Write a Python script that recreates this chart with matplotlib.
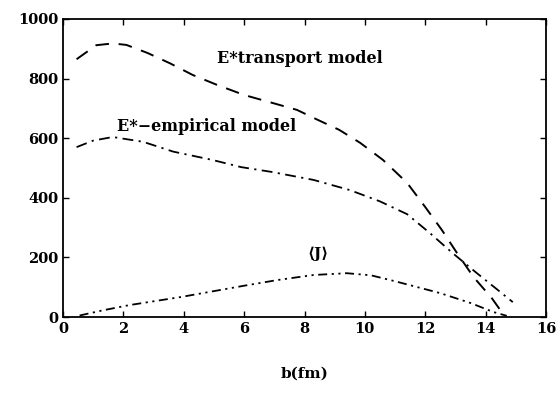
import numpy as np
import matplotlib
matplotlib.use("Agg")
import matplotlib.pyplot as plt

# transport model E*
b_tr = [0.45, 1.1, 1.65, 2.1, 2.8, 3.55, 4.3, 5.1, 6.0, 6.95, 7.75, 8.45,
        9.15, 9.85, 10.6, 11.4, 12.0, 12.55, 13.05, 13.6, 14.2, 14.6]
e_tr = [865, 912, 918, 913, 886, 851, 812, 779, 745, 718, 695, 661,
        628, 584, 527, 450, 369, 292, 215, 134, 64, 7]

# empirical model E*
b_em = [0.45, 1.0, 1.65, 2.65, 3.65, 4.95, 5.9, 6.9, 8.3, 9.5, 10.5,
        11.4, 12.15, 12.9, 13.7, 14.4, 14.9]
e_em = [570, 592, 604, 588, 555, 527, 503, 487, 460, 426, 388,
        345, 282, 215, 148, 91, 50]

# <J>
b_j = [0.55, 1.3, 2.2, 3.9, 6.0, 7.1, 8.3, 9.4, 10.2, 11.0, 12.5, 13.5, 14.25, 14.7]
j_v = [5, 22, 40, 67, 105, 124, 141, 147, 140, 120, 80, 47, 17, 4]

xticks = [0, 2, 4, 6, 8, 10, 12, 14, 16]
yticks = [0, 200, 400, 600, 800, 1000]

plt.rcParams['font.family'] = ['DejaVu Serif']
plt.rcParams['font.weight'] = 'bold'

fig = plt.figure(figsize=(5.6, 3.94), dpi=100)
ax = fig.add_axes([0.1125, 0.1954, 0.8625, 0.7564])

ax.plot(b_tr, e_tr, color="black", lw=1.4, dashes=(7, 5))
ax.plot(b_em, e_em, color="black", lw=1.3, dashes=(6, 3, 1.2, 3))
ax.plot(b_j, j_v, color="black", lw=1.3, dashes=(5, 2.5, 1.2, 2.5, 1.2, 2.5))

ax.text(5.1, 868, "E*transport model", fontsize=11.5, fontweight="bold", va="center")
ax.text(1.8, 640, "E*\u2212empirical model", fontsize=11.5, fontweight="bold", va="center")
ax.text(8.1, 212, "\u27e8J\u27e9", fontsize=11, fontweight="bold", va="center")

ax.set_xlim(0, 16)
ax.set_ylim(0, 1000)
ax.set_xticks(xticks)
ax.set_yticks(yticks)
ax.tick_params(direction="in", top=True, right=True, length=4, width=1, labelsize=10.5)
for lab in ax.get_xticklabels() + ax.get_yticklabels():
    lab.set_fontweight("bold")
for s in ax.spines.values():
    s.set_linewidth(1.3)
ax.set_xlabel("b(fm)", fontsize=11, fontweight="bold", labelpad=22)

plt.savefig("out.png", dpi=100)
